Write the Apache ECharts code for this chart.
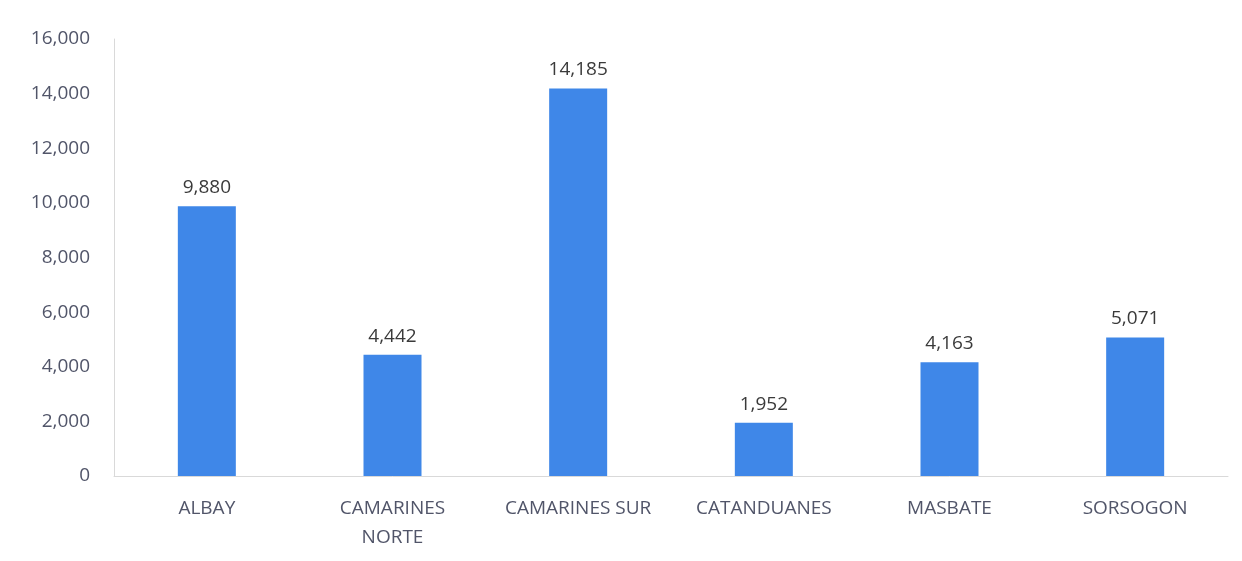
<!DOCTYPE html>
<html>
<head>
<meta charset="utf-8">
<script src="https://cdn.jsdelivr.net/npm/echarts@6/dist/echarts.min.js"></script>
<style>html,body{margin:0;padding:0;background:#fff;}#c{width:1242px;height:561px;}</style>
</head>
<body>
<div id="c"></div>
<script>
var categories = ['ALBAY', 'CAMARINES\nNORTE', 'CAMARINES SUR', 'CATANDUANES', 'MASBATE', 'SORSOGON'];
var values = [9880, 4442, 14185, 1952, 4163, 5071];

var chart = echarts.init(document.getElementById('c'));
chart.setOption({
  animation: false,
  grid: {left: 114, right: 14, top: 39, bottom: 85, containLabel: false},
  xAxis: {
    type: 'category',
    data: categories,
    axisLine: {lineStyle: {color: '#d9d9d9', width: 1}},
    axisTick: {show: false},
    axisLabel: {interval: 0, hideOverlap: false, color: '#515569', fontFamily: 'Open Sans', fontSize: 19, margin: 18, lineHeight: 29}
  },
  yAxis: {
    type: 'value',
    min: 0, max: 16000, interval: 2000,
    axisLine: {show: true, lineStyle: {color: '#d9d9d9', width: 1}},
    axisTick: {show: false},
    splitLine: {show: false},
    axisLabel: {
      color: '#515569', fontFamily: 'Open Sans', fontSize: 19, margin: 24,
      formatter: function (v) { return v.toLocaleString('en-US'); }
    }
  },
  series: [{
    type: 'bar',
    data: values,
    barWidth: 58,
    itemStyle: {color: '#3f87e8'},
    label: {
      show: true, position: 'top', distance: 9,
      color: '#3a3a3a', fontFamily: 'Open Sans', fontSize: 19,
      formatter: function (p) { return p.value.toLocaleString('en-US'); }
    }
  }]
});
</script>
</body>
</html>
